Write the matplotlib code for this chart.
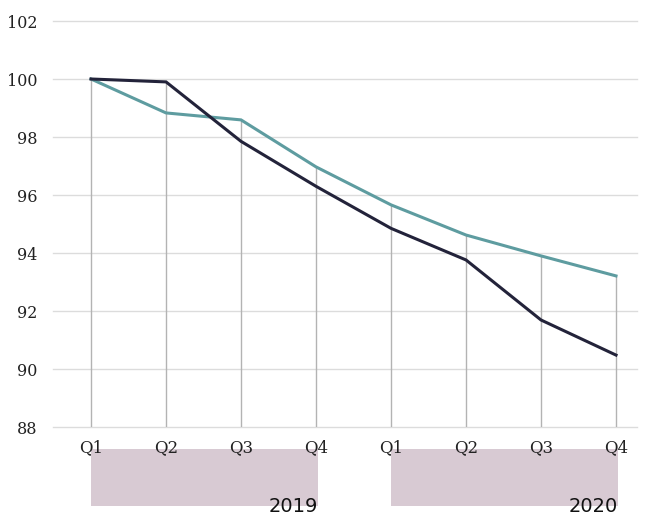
import numpy as np
import matplotlib
matplotlib.use("Agg")
import matplotlib.pyplot as plt
import matplotlib.transforms as mtransforms

# data
quarters = ["Q1", "Q2", "Q3", "Q4", "Q1", "Q2", "Q3", "Q4"]
years = ["2019", "2020"]
series_dark = [100.0, 99.9, 97.85, 96.3, 94.85, 93.76, 91.69, 90.48]
series_teal = [100.0, 98.83, 98.59, 96.97, 95.66, 94.62, 93.9, 93.21]
y_ticks = [88, 90, 92, 94, 96, 98, 100, 102]

dark_col = "#23233a"
teal_col = "#5e9ca0"
band_col = "#d8cad3"

fig = plt.figure(figsize=(6.48, 5.14), dpi=100)
ax = fig.add_axes([53 / 648, 87 / 514, 584 / 648, 406 / 514])

x = np.arange(len(quarters))

# grid
for v in y_ticks:
    ax.axhline(v, color="#dcdcdc", lw=1, zorder=0, clip_on=False)

# drop lines from the higher point down to the bottom
tops = np.maximum(series_dark, series_teal)
ax.vlines(x, y_ticks[0], tops, color="#b3b3b3", lw=1, zorder=1)

ax.plot(x, series_teal, color=teal_col, lw=2.2, zorder=3, solid_joinstyle="miter")
ax.plot(x, series_dark, color=dark_col, lw=2.2, zorder=4, solid_joinstyle="miter")

ax.set_xlim(-0.507, 7.28)
ax.set_ylim(88, 102)
ax.set_yticks(y_ticks)
ax.set_yticklabels([str(v) for v in y_ticks], family="DejaVu Serif", fontsize=11.5, color="#222222")
ax.set_xticks(x)
ax.set_xticklabels(quarters, family="DejaVu Serif", fontsize=12, color="#222222")
ax.tick_params(length=0)
ax.tick_params(axis="y", pad=11)
ax.tick_params(axis="x", pad=9)
for s in ax.spines.values():
    s.set_visible(False)

# year bands below the axis
trans = mtransforms.blended_transform_factory(ax.transData, ax.transAxes)
for i, yr in enumerate(years):
    x0 = x[i * 4]
    x1 = x[i * 4 + 3] + 0.03
    rect = plt.Rectangle((x0, -0.195), x1 - x0, 0.141, transform=trans,
                         facecolor=band_col, edgecolor="none", clip_on=False, zorder=0)
    ax.add_patch(rect)
    ax.text(x1, -0.218, yr, transform=trans, ha="right", va="bottom",
            fontsize=14, family="DejaVu Sans", color="#111111")

fig.savefig("out.png", dpi=100)
